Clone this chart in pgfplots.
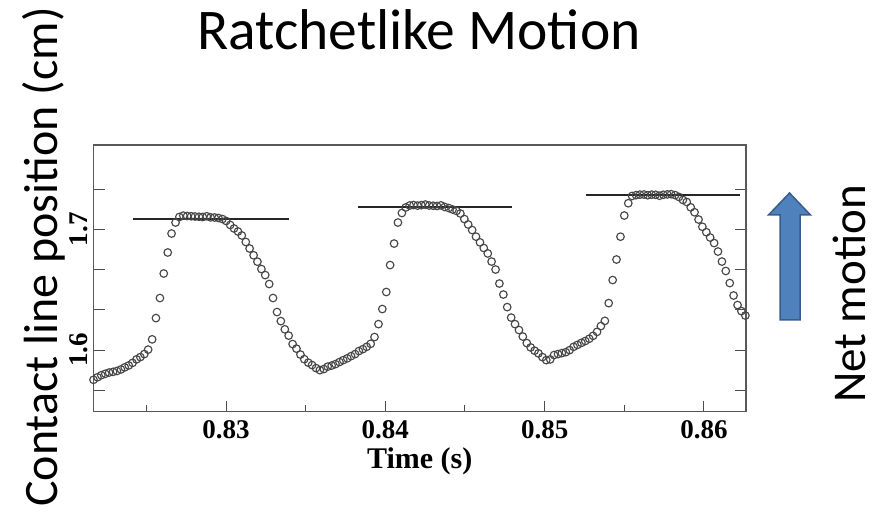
\documentclass[border=0pt]{standalone}
\usepackage{pgfplots}
\pgfplotsset{compat=1.18}
\usepackage{fontspec}
\setmainfont{Carlito}
\newfontfamily\timesf{Liberation Serif}
\definecolor{arrowfill}{HTML}{4F81BD}
\definecolor{arrowdraw}{HTML}{385D8A}
\pgfplotstableread{
t y
0.82168 1.5754
0.82193 1.5775
0.82217 1.5792
0.82242 1.5804
0.82266 1.5814
0.82291 1.5820
0.82315 1.5827
0.82340 1.5840
0.82364 1.5857
0.82389 1.5873
0.82413 1.5894
0.82438 1.5923
0.82462 1.5942
0.82487 1.5967
0.82511 1.6004
0.82536 1.6089
0.82560 1.6265
0.82585 1.6431
0.82609 1.6634
0.82634 1.6808
0.82658 1.6965
0.82683 1.7056
0.82707 1.7102
0.82732 1.7113
0.82756 1.7110
0.82781 1.7108
0.82805 1.7106
0.82830 1.7104
0.82854 1.7102
0.82879 1.7108
0.82903 1.7099
0.82928 1.7098
0.82952 1.7094
0.82977 1.7085
0.83001 1.7069
0.83026 1.7036
0.83050 1.7007
0.83075 1.6982
0.83099 1.6949
0.83124 1.6895
0.83148 1.6841
0.83173 1.6785
0.83197 1.6732
0.83222 1.6671
0.83246 1.6621
0.83271 1.6547
0.83295 1.6431
0.83320 1.6315
0.83344 1.6240
0.83369 1.6172
0.83393 1.6120
0.83418 1.6050
0.83442 1.6012
0.83467 1.5963
0.83491 1.5925
0.83516 1.5896
0.83540 1.5876
0.83565 1.5851
0.83589 1.5834
0.83614 1.5843
0.83638 1.5863
0.83663 1.5872
0.83687 1.5884
0.83712 1.5901
0.83736 1.5917
0.83761 1.5932
0.83785 1.5950
0.83810 1.5967
0.83834 1.5992
0.83859 1.6008
0.83883 1.6027
0.83908 1.6052
0.83932 1.6108
0.83957 1.6215
0.83981 1.6340
0.84006 1.6481
0.84030 1.6704
0.84055 1.6882
0.84079 1.7056
0.84104 1.7135
0.84128 1.7181
0.84153 1.7197
0.84177 1.7201
0.84202 1.7196
0.84226 1.7200
0.84251 1.7205
0.84275 1.7197
0.84300 1.7195
0.84324 1.7193
0.84349 1.7198
0.84373 1.7185
0.84398 1.7176
0.84422 1.7164
0.84447 1.7152
0.84471 1.7131
0.84496 1.7085
0.84520 1.7040
0.84545 1.6994
0.84569 1.6939
0.84594 1.6892
0.84618 1.6845
0.84643 1.6800
0.84667 1.6733
0.84692 1.6667
0.84716 1.6551
0.84741 1.6460
0.84765 1.6356
0.84790 1.6269
0.84814 1.6215
0.84839 1.6166
0.84863 1.6112
0.84888 1.6058
0.84912 1.6022
0.84937 1.5995
0.84961 1.5973
0.84986 1.5942
0.85010 1.5917
0.85035 1.5923
0.85059 1.5959
0.85084 1.5967
0.85108 1.5975
0.85133 1.5983
0.85157 1.6000
0.85182 1.6027
0.85206 1.6043
0.85231 1.6060
0.85255 1.6075
0.85280 1.6094
0.85304 1.6118
0.85329 1.6151
0.85353 1.6199
0.85378 1.6242
0.85402 1.6389
0.85427 1.6580
0.85451 1.6750
0.85476 1.6939
0.85500 1.7114
0.85525 1.7216
0.85549 1.7276
0.85574 1.7283
0.85598 1.7287
0.85623 1.7288
0.85647 1.7282
0.85672 1.7287
0.85696 1.7286
0.85721 1.7278
0.85745 1.7286
0.85770 1.7289
0.85794 1.7291
0.85819 1.7283
0.85843 1.7268
0.85868 1.7243
0.85892 1.7226
0.85917 1.7182
0.85941 1.7141
0.85966 1.7081
0.85990 1.7021
0.86015 1.6976
0.86039 1.6932
0.86064 1.6886
0.86088 1.6816
0.86113 1.6733
0.86137 1.6655
0.86162 1.6555
0.86186 1.6452
0.86211 1.6373
0.86235 1.6323
0.86260 1.6286
}\datatable
\begin{document}
\begin{tikzpicture}[x=1pt,y=1pt]
\useasboundingbox (0,0) rectangle (881,514);
\begin{axis}[
  at={(93.5pt,102.3pt)}, anchor=south west, scale only axis,
  width=652.5pt, height=266.7pt,
  xmin=0.82168, xmax=0.86264, ymin=1.549, ymax=1.7698,
  xtick={0.83,0.84,0.85,0.86}, xticklabels={0.83,0.84,0.85,0.86},
  minor xtick={0.825,0.835,0.845,0.855},
  ytick={1.56667,1.6,1.63333,1.66667,1.7,1.73333}, yticklabels={,1.6,,,1.7,},
  xtick pos=bottom, ytick pos=both, yticklabel pos=left,
  tick align=inside,
  major tick length=11pt, minor tick length=7pt,
  every tick/.style={black!70, line width=1pt},
  every minor tick/.style={black!70, line width=1pt},
  axis line style={black!65, line width=1.6pt},
  ticklabel style={font=\timesf\bfseries\fontsize{27}{27}\selectfont},
  xticklabel style={anchor=base, yshift=-27pt},
  yticklabel style={xshift=-5.5pt, rotate=90, anchor=base},
  xlabel={Time (s)},
  xlabel style={font=\timesf\bfseries\fontsize{30}{30}\selectfont, at={(axis description cs:0.5,-0.185)}, anchor=center},
]
\addplot[only marks, mark=o, mark size=3.8pt, black!72, mark options={line width=1.15pt}] table[x=t, y=y] {\datatable};
\addplot[black!85, line width=1.8pt, no markers] coordinates {(0.82418,1.7088) (0.83395,1.7088)};
\addplot[black!85, line width=1.8pt, no markers] coordinates {(0.83827,1.7182) (0.84797,1.7182)};
\addplot[black!85, line width=1.8pt, no markers] coordinates {(0.85258,1.7284) (0.86227,1.7284)};
\end{axis}
\node[anchor=base, font=\fontsize{57.5}{60}\selectfont, inner sep=0pt] at (419,464) {Ratchetlike Motion};
\node[rotate=90, anchor=base, font=\fontsize{48}{50}\selectfont, inner sep=0pt] at (57,257) {Contact line position (cm)};
\node[rotate=90, anchor=base, font=\fontsize{47}{50}\selectfont, inner sep=0pt] at (865,220) {Net motion};
\filldraw[fill=arrowfill, draw=arrowdraw, line width=1.5pt] (780,194) -- (800,194) -- (800,299) -- (810.5,299) -- (789.5,321) -- (768.5,299) -- (780,299) -- cycle;
\end{tikzpicture}
\end{document}
